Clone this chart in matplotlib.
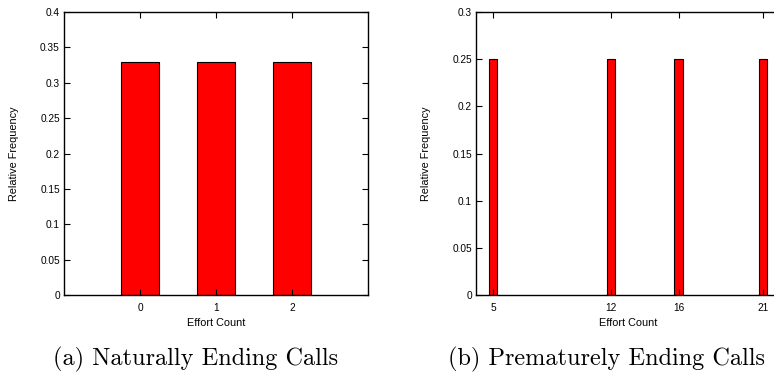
import numpy as np
import matplotlib.pyplot as plt
from matplotlib.ticker import FormatStrFormatter

# Effort count distributions
natural_counts = [0, 1, 2]
natural_freq = [0.33, 0.33, 0.33]

premature_counts = [5, 12, 16, 21]
premature_freq = [0.25, 0.25, 0.25, 0.25]

W, H = 774, 373

plt.rcParams['font.family'] = ['Liberation Sans', 'DejaVu Sans']

fig = plt.figure(figsize=(W / 100, H / 100), dpi=100)


def px_axes(left, top, right, bottom):
    return fig.add_axes([left / W, 1 - bottom / H, (right - left) / W, (bottom - top) / H])


def style(ax, xticks, ylim, ystep):
    ax.set_ylim(*ylim)
    ax.set_yticks(np.arange(ylim[0], ylim[1] + 1e-9, ystep))
    ax.yaxis.set_major_formatter(FormatStrFormatter('%g'))
    ax.set_xticks(xticks)
    ax.tick_params(direction='in', top=True, right=True, length=4, width=0.8,
                   labelsize=7.3)
    ax.tick_params(axis='x', pad=6)
    ax.tick_params(axis='y', pad=3)
    for s in ax.spines.values():
        s.set_linewidth(1.0)
    ax.set_xlabel('Effort Count', fontsize=7.8)
    ax.set_ylabel('Relative Frequency', fontsize=7.8)
    ax.xaxis.set_label_coords(0.5, -0.081)
    ax.yaxis.set_label_coords(-0.148, 0.5)


# (a) naturally ending calls
ax1 = px_axes(64, 12, 368, 295)
ax1.bar(natural_counts, natural_freq, width=0.5, color='#ff0000',
        edgecolor='black', linewidth=0.8)
ax1.set_xlim(-1, 3)
style(ax1, natural_counts, (0, 0.4), 0.05)

# (b) prematurely ending calls (cropped on the right in the original)
ax2 = px_axes(476, 12, 780, 295)
ax2.bar(premature_counts, premature_freq, width=0.5, color='#ff0000',
        edgecolor='black', linewidth=0.8)
ax2.set_xlim(4, 22)
style(ax2, premature_counts, (0, 0.3), 0.05)

fig.text(196 / W, 1 - 365 / H, '(a) Naturally Ending Calls', family='cmr10',
         fontsize=17.5, ha='center', va='baseline')
fig.text(607 / W, 1 - 365 / H, '(b) Prematurely Ending Calls', family='cmr10',
         fontsize=17.5, ha='center', va='baseline')

fig.savefig('out.png', dpi=100)
